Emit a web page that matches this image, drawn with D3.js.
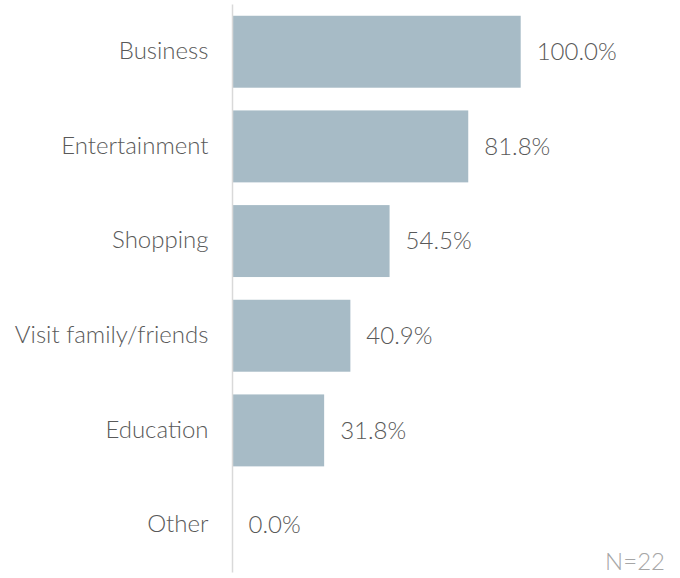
<!DOCTYPE html>
<html>
<head>
<meta charset="utf-8">
<script src="https://cdn.jsdelivr.net/npm/d3@7"></script>
<style>
  html, body { margin: 0; padding: 0; background: #fff; }
  svg { display: block; }
  text { font-family: "Lato", "Open Sans", sans-serif; font-weight: 300; }
</style>
</head>
<body>
<svg id="chart" width="680" height="578"></svg>
<script>
// Reasons for travel, share of respondents (%)
const categories = ["Business", "Entertainment", "Shopping", "Visit family/friends", "Education", "Other"];
const shares = [100.0, 81.8, 54.5, 40.9, 31.8, 0.0];
const sampleNote = "N=22";

const svg = d3.select("#chart");

const x = d3.scaleLinear().domain([0, 100]).range([232.5, 520.7]);
const y = d3.scaleBand()
  .domain(categories)
  .range([4.4, 572.4])
  .paddingInner(0.24)
  .paddingOuter(0.12);

const data = categories.map((c, i) => ({ category: c, value: shares[i] }));

// bars
svg.append("g")
  .selectAll("rect")
  .data(data)
  .join("rect")
  .attr("x", x(0))
  .attr("y", d => y(d.category))
  .attr("width", d => x(d.value) - x(0))
  .attr("height", y.bandwidth())
  .attr("fill", "#a7bbc6");

// category axis
const yAxis = d3.axisLeft(y).tickSize(0).tickPadding(24);
const gy = svg.append("g")
  .attr("transform", `translate(${x(0)},0)`)
  .call(yAxis);
gy.select(".domain")
  .attr("d", `M0,${y.range()[0]}V${y.range()[1]}`)
  .attr("stroke", "#d9d9d9")
  .attr("stroke-width", 1.5);
gy.selectAll(".tick text")
  .attr("fill", "#595959")
  .style("font-size", "24px")
  .attr("dy", "0.3em");

// value labels
svg.append("g")
  .selectAll("text")
  .data(data)
  .join("text")
  .attr("x", d => x(d.value) + 16)
  .attr("y", d => y(d.category) + y.bandwidth() / 2)
  .attr("dy", "0.35em")
  .attr("fill", "#595959")
  .style("font-size", "24px")
  .text(d => d.value.toFixed(1) + "%");

// sample size note
svg.append("text")
  .attr("x", 665)
  .attr("y", 570)
  .attr("text-anchor", "end")
  .attr("fill", "#a6a6a6")
  .style("font-size", "24px")
  .text(sampleNote);
</script>
</body>
</html>
